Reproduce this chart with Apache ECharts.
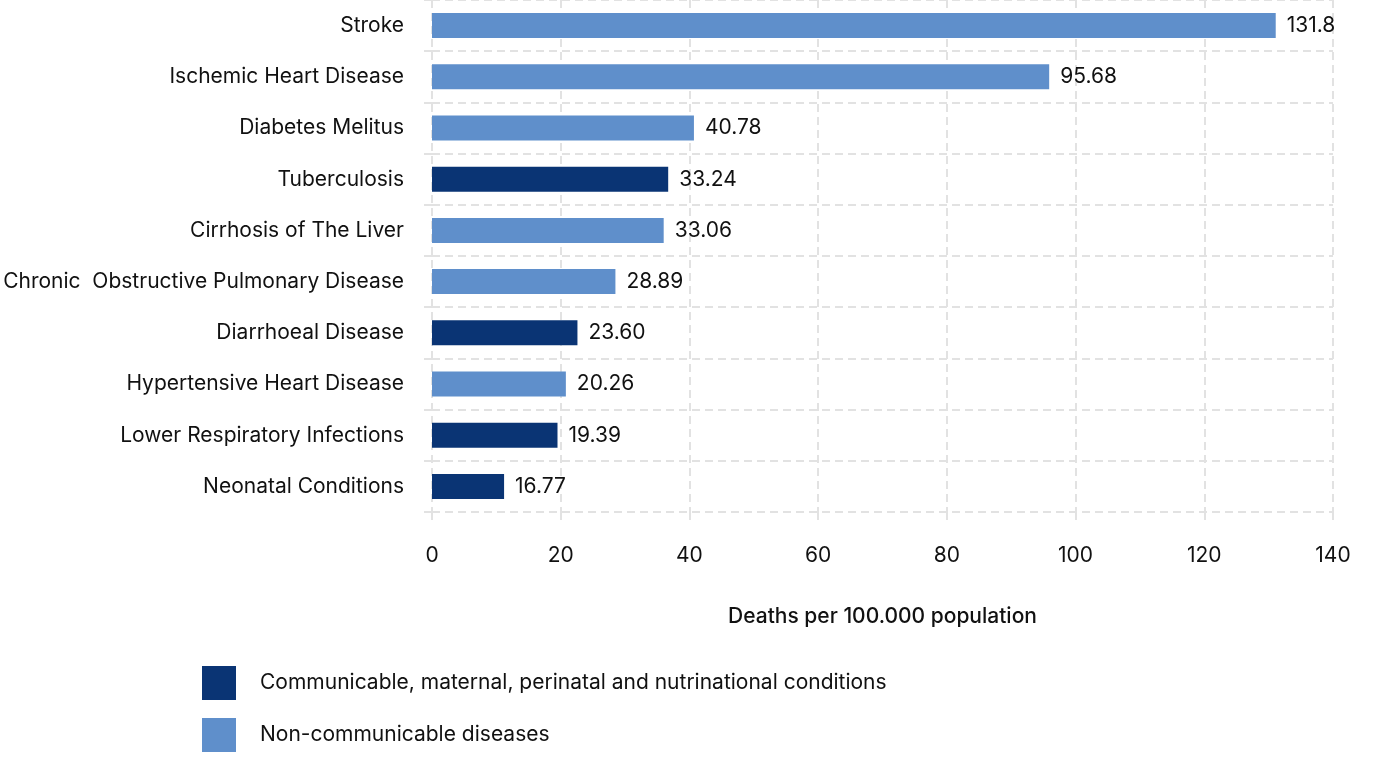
<!DOCTYPE html>
<html>
<head>
<meta charset="utf-8">
<title>Deaths per 100.000 population</title>
<script src="https://cdn.jsdelivr.net/npm/echarts@6/dist/echarts.min.js"></script>
<style>
  html, body { margin: 0; padding: 0; background: #fff; }
  #main { width: 1396px; height: 768px; }
</style>
</head>
<body>
<div id="main"></div>
<script>
// categories, top to bottom
var causes = ['Stroke', 'Ischemic Heart Disease', 'Diabetes Melitus', 'Tuberculosis',
  'Cirrhosis of The Liver', 'Chronic  Obstructive Pulmonary Disease', 'Diarrhoeal Disease',
  'Hypertensive Heart Disease', 'Lower Respiratory Infections', 'Neonatal Conditions'];
// bar lengths as drawn in the picture
var barValues = [131.1, 95.9, 40.7, 36.7, 36.0, 28.5, 22.6, 20.8, 19.5, 11.2];
// numbers printed next to the bars
var valueLabels = ['131.8', '95.68', '40.78', '33.24', '33.06', '28.89', '23.60', '20.26', '19.39', '16.77'];
// group: 'C' communicable, 'N' non-communicable
var groups = ['N', 'N', 'N', 'C', 'N', 'N', 'C', 'N', 'C', 'C'];
var xTicks = [0, 20, 40, 60, 80, 100, 120, 140];

var darkBlue = '#0a3474';
var lightBlue = '#5f8fcb';
var grey = '#e2e2e2';

function pick(g) {
  return barValues.map(function (v, i) { return groups[i] === g ? v : null; });
}

var labelOpt = {
  show: true,
  position: 'right',
  distance: 11,
  color: '#111',
  fontFamily: 'Inter',
  fontSize: 21,
  formatter: function (p) { return valueLabels[p.dataIndex]; }
};

var chart = echarts.init(document.getElementById('main'));
chart.setOption({
  animation: false,
  textStyle: { fontFamily: 'Inter' },
  grid: { left: 432, right: 63, top: -3, bottom: 256, containLabel: false },
  legend: {
    orient: 'vertical',
    left: 197,
    top: 661,
    itemWidth: 34,
    itemHeight: 34,
    itemGap: 18,
    icon: 'rect',
    textStyle: { color: '#111', fontSize: 21, fontFamily: 'Inter', padding: [0, 0, 0, 19] },
    data: ['Communicable, maternal, perinatal and nutrinational conditions', 'Non-communicable diseases']
  },
  xAxis: {
    type: 'value',
    min: xTicks[0],
    max: xTicks[xTicks.length - 1],
    interval: 20,
    name: 'Deaths per 100.000 population',
    nameLocation: 'middle',
    nameGap: 94,
    nameTextStyle: { color: '#111', fontSize: 21, fontWeight: 500, fontFamily: 'Inter' },
    axisLine: { show: false },
    axisTick: { show: true, length: 10, lineStyle: { color: grey, width: 2, type: [8, 5] } },
    axisLabel: { color: '#111', fontSize: 21, margin: 33, fontFamily: 'Inter' },
    splitLine: { show: true, lineStyle: { color: grey, width: 2, type: [8, 5] } }
  },
  yAxis: {
    type: 'category',
    inverse: true,
    data: causes,
    axisLine: { show: false },
    axisTick: { show: true, length: 10, lineStyle: { color: grey, width: 2, type: [8, 5] } },
    axisLabel: { color: '#111', fontSize: 21, margin: 28, fontFamily: 'Inter' },
    splitLine: { show: true, lineStyle: { color: grey, width: 2, type: [8, 5] } }
  },
  series: [
    {
      name: 'Communicable, maternal, perinatal and nutrinational conditions',
      type: 'bar',
      barWidth: 25,
      barGap: '-100%',
      itemStyle: { color: darkBlue },
      label: labelOpt,
      data: pick('C')
    },
    {
      name: 'Non-communicable diseases',
      type: 'bar',
      barWidth: 25,
      barGap: '-100%',
      itemStyle: { color: lightBlue },
      label: labelOpt,
      data: pick('N')
    }
  ]
});
</script>
</body>
</html>
